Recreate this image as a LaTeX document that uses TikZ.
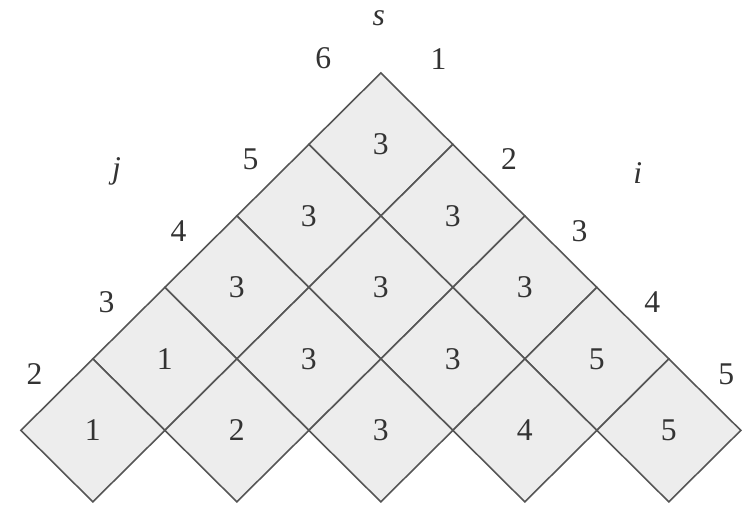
\documentclass[tikz,border=0pt]{standalone}
\usepackage{fontspec}
\setmainfont{Liberation Serif}
\usepackage{tikz}
\definecolor{CellGray}{HTML}{EDEDED}
\definecolor{EdgeGray}{HTML}{555555}
\definecolor{InkGray}{HTML}{333333}

\begin{document}
\begin{tikzpicture}[x=1.44cm, y=1.43cm,
    cell/.style={fill=CellGray, draw=EdgeGray, line width=0.9pt, line join=miter},
    num/.style={text=InkGray, font=\fontsize{18}{20}\selectfont, inner sep=1pt},
    var/.style={text=InkGray, font=\fontsize{18}{20}\selectfont\itshape, inner sep=1pt}]
  \useasboundingbox (-5.29,-6.03) rectangle (5.10,1.02);
  %% Table cells (row r, column c) with their entries
  \foreach \r/\c/\v in {0/0/3,
                        1/0/3, 1/1/3,
                        2/0/3, 2/1/3, 2/2/3,
                        3/0/1, 3/1/3, 3/2/3, 3/3/5,
                        4/0/1, 4/1/2, 4/2/3, 4/3/4, 4/4/5} {
    \pgfmathsetmacro\cx{2*\c-\r}
    \pgfmathsetmacro\cy{-\r-1}
    \filldraw[cell, shift={(\cx,\cy)}] (-1,0) -- (0,1) -- (1,0) -- (0,-1) -- cycle;
    \node[num] (c\r\c) at (\cx,\cy) {\v};
  }
  %% Index labels along the left edge (j)
  \foreach \k/\x/\y in {6/-0.80/0.20, 5/-1.81/-1.21, 4/-2.81/-2.21,
                        3/-3.81/-3.21, 2/-4.81/-4.21}
    \node[num] (j\k) at (\x,\y) {\k};
  %% Index labels along the right edge (i)
  \foreach \k/\x/\y in {1/0.80/0.20, 2/1.78/-1.21, 3/2.76/-2.21,
                        4/3.77/-3.20, 5/4.80/-4.21}
    \node[num] (i\k) at (\x,\y) {\k};
  %% Axis names
  \node[var] (s) at (-0.03,0.77) {s};
  \node[var] (j) at (-3.67,-1.38) {j};
  \node[var] (i) at (3.57,-1.40) {i};
\end{tikzpicture}
\end{document}
